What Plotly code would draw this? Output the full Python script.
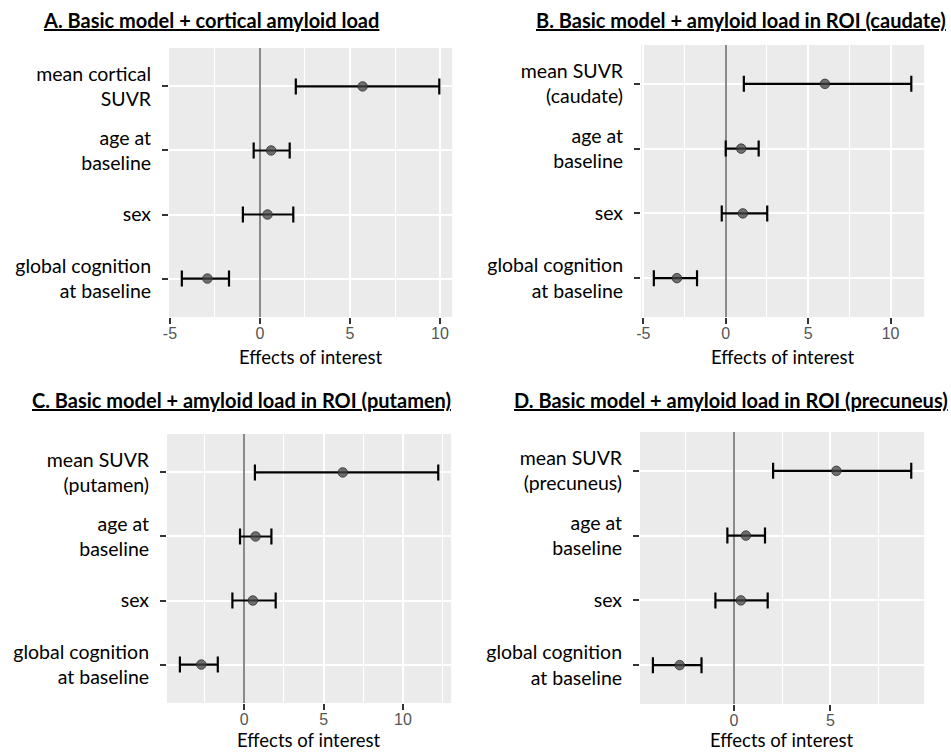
import plotly.graph_objects as go

# ---------------- data ----------------
terms_A = ["mean cortical<br>SUVR", "age at<br>baseline", "sex", "global cognition<br>at baseline"]
est_A = [5.70, 0.62, 0.42, -2.92]
lo_A = [1.99, -0.35, -0.95, -4.34]
hi_A = [9.96, 1.65, 1.85, -1.72]

terms_B = ["mean SUVR<br>(caudate)", "age at<br>baseline", "sex", "global cognition<br>at baseline"]
est_B = [6.02, 0.94, 1.04, -2.96]
lo_B = [1.10, 0.00, -0.24, -4.36]
hi_B = [11.26, 2.00, 2.52, -1.74]

terms_C = ["mean SUVR<br>(putamen)", "age at<br>baseline", "sex", "global cognition<br>at baseline"]
est_C = [6.21, 0.71, 0.54, -2.71]
lo_C = [0.67, -0.27, -0.75, -4.06]
hi_C = [12.23, 1.71, 1.98, -1.67]

terms_D = ["mean SUVR<br>(precuneus)", "age at<br>baseline", "sex", "global cognition<br>at baseline"]
est_D = [5.31, 0.62, 0.36, -2.81]
lo_D = [2.03, -0.34, -0.96, -4.20]
hi_D = [9.19, 1.61, 1.75, -1.68]

x_tick_vals = [-5, 0, 5, 10]
x_tick_text = ["-5", "0", "5", "10"]

titles = [
    "A. Basic model + cortical amyloid load",
    "B. Basic model + amyloid load in ROI (caudate)",
    "C. Basic model + amyloid load in ROI (putamen)",
    "D. Basic model + amyloid load in ROI (precuneus)",
]
x_title = "Effects of interest"

panels = [
    (terms_A, est_A, lo_A, hi_A),
    (terms_B, est_B, lo_B, hi_B),
    (terms_C, est_C, lo_C, hi_C),
    (terms_D, est_D, lo_D, hi_D),
]

# ---------------- layout geometry ----------------
W, H = 951, 752
boxes = [
    (164, 48, 449, 317),
    (639, 45, 924, 317),
    (162, 434, 448, 703),
    (638, 432, 924, 704),
]
title_pos = [(206, 20), (740, 20), (237, 400), (730, 400)]
xtitle_y = [357, 357, 740, 740]

TXT_FONT = "Lato, 'Open Sans', sans-serif"
TICK_FONT = "'Liberation Sans', Arial, sans-serif"

fig = go.Figure()
layout = dict(
    width=W, height=H,
    margin=dict(l=0, r=0, t=0, b=0),
    paper_bgcolor="white",
    plot_bgcolor="#EBEBEB",
    showlegend=False,
    annotations=[],
)

for i, ((terms, est, lo, hi), box) in enumerate(zip(panels, boxes)):
    n = i + 1
    xa = "xaxis" if n == 1 else f"xaxis{n}"
    ya = "yaxis" if n == 1 else f"yaxis{n}"
    xr = "x" if n == 1 else f"x{n}"
    yr = "y" if n == 1 else f"y{n}"

    cats = list(reversed(terms))
    err_plus = [h - e for h, e in zip(hi, est)]
    err_minus = [e - l for e, l in zip(est, lo)]

    fig.add_trace(go.Scatter(
        x=est, y=terms, xaxis=xr, yaxis=yr, mode="markers",
        marker=dict(size=9.5, color="rgba(70,70,70,0.75)",
                    line=dict(width=1, color="rgba(45,45,45,0.8)")),
        error_x=dict(type="data", symmetric=False, array=err_plus,
                     arrayminus=err_minus, color="black", thickness=2.2, width=8),
        hoverinfo="skip",
    ))

    lo_all, hi_all = min(lo), max(hi)
    pad = 0.05 * (hi_all - lo_all)
    l, t, r, b = box
    layout[xa] = dict(
        domain=[l / W, r / W], anchor=yr,
        range=[lo_all - pad, hi_all + pad],
        tickmode="array", tickvals=x_tick_vals, ticktext=x_tick_text,
        ticks="outside", ticklen=6, tickwidth=2,
        tickcolor="#333333", ticklabelstandoff=-4,
        tickfont=dict(family=TICK_FONT, size=16, color="#555555"),
        showgrid=True, gridcolor="white", gridwidth=1.8,
        minor=dict(tick0=0, dtick=2.5, showgrid=True, gridcolor="white", gridwidth=0.9),
        zeroline=True, zerolinecolor="#8a8a8a", zerolinewidth=2.3,
        showline=False,
        fixedrange=True,
    )
    layout[ya] = dict(
        domain=[1 - b / H, 1 - t / H], anchor=xr,
        type="category", categoryorder="array", categoryarray=cats,
        range=[-0.6, 3.6],
        ticks="outside", ticklen=6, tickwidth=2, tickcolor="#333333",
        ticklabelstandoff=7,
        tickfont=dict(family=TXT_FONT, size=19.5, color="black"),
        showgrid=True, gridcolor="white", gridwidth=1.8,
        zeroline=False, showline=False,
        fixedrange=True,
    )

    tx, ty = title_pos[i]
    layout["annotations"].append(dict(
        text=f"<b><u>{titles[i]}</u></b>",
        xref="paper", yref="paper", x=tx / W, y=1 - ty / H,
        xanchor="center", yanchor="middle", showarrow=False,
        font=dict(family=TXT_FONT, size=20, color="black"),
    ))
    layout["annotations"].append(dict(
        text=x_title,
        xref=f"{xr} domain", yref="paper", x=0.5, y=1 - xtitle_y[i] / H,
        xanchor="center", yanchor="middle", showarrow=False,
        font=dict(family=TXT_FONT, size=18.5, color="black"),
    ))

fig.update_layout(**layout)
fig.write_html("out.html")
